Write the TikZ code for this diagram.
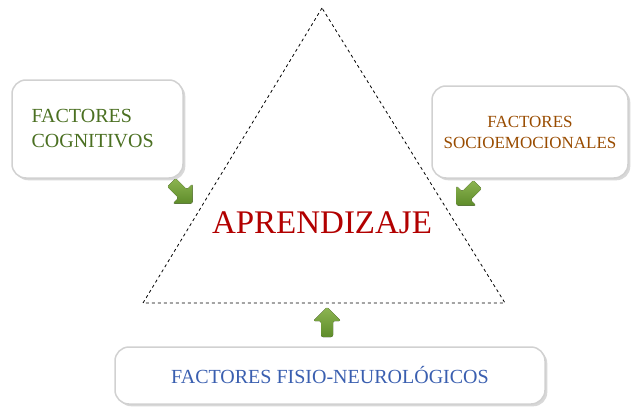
\documentclass[tikz,border=0pt]{standalone}
\usepackage{fontspec}
\setmainfont{Liberation Serif}
\usetikzlibrary{shadows}
\definecolor{olive1}{HTML}{5E8C2A}
\definecolor{olive2}{HTML}{8DB552}
\definecolor{fisblue}{HTML}{3A5FB0}
\tikzset{
 box/.style={draw=black!18,line width=1.5pt,fill=white,rounded corners=14pt,drop shadow={opacity=0.3}},
 fat/.pic={\fill[top color=olive2,bottom color=olive1,rounded corners=2pt]
   (-15,-6)--(1,-6)--(1,-14)--(15,0)--(1,14)--(1,6)--(-15,6)--cycle;}
}
\begin{document}
\begin{tikzpicture}[x=1pt,y=-1pt]
\useasboundingbox[fill=white] (0,0) rectangle (640,415);
\coordinate (A) at (322,8); \coordinate (B) at (143,303); \coordinate (C) at (505,303);
\draw[dashed,line width=0.8pt] (A)--(B)--(C)--cycle;
\node[box,minimum width=171pt,minimum height=98pt] (cog) at (97.5,129) {};
\node[font=\fontsize{20}{25}\selectfont,text=olive1!80!black,align=left,anchor=west] (cogt) at (28,129) {FACTORES\\COGNITIVOS};
\node[box,minimum width=196pt,minimum height=92pt,font=\fontsize{17}{21}\selectfont,text=orange!60!black,align=center] (soc) at (530,132) {FACTORES\\SOCIOEMOCIONALES};
\node[box,minimum width=430pt,minimum height=57pt,font=\fontsize{20}{24}\selectfont,text=fisblue] (fis) at (330,375.5) {FACTORES FISIO-NEUROLÓGICOS};
\node[font=\fontsize{33}{38}\selectfont,text=red!70!black] (apr) at (322,223) {APRENDIZAJE};
\pic[rotate=-45] at (182,193) {fat};
\pic[rotate=-135] at (467,195) {fat};
\pic[rotate=90] at (327,322) {fat};
\end{tikzpicture}
\end{document}
